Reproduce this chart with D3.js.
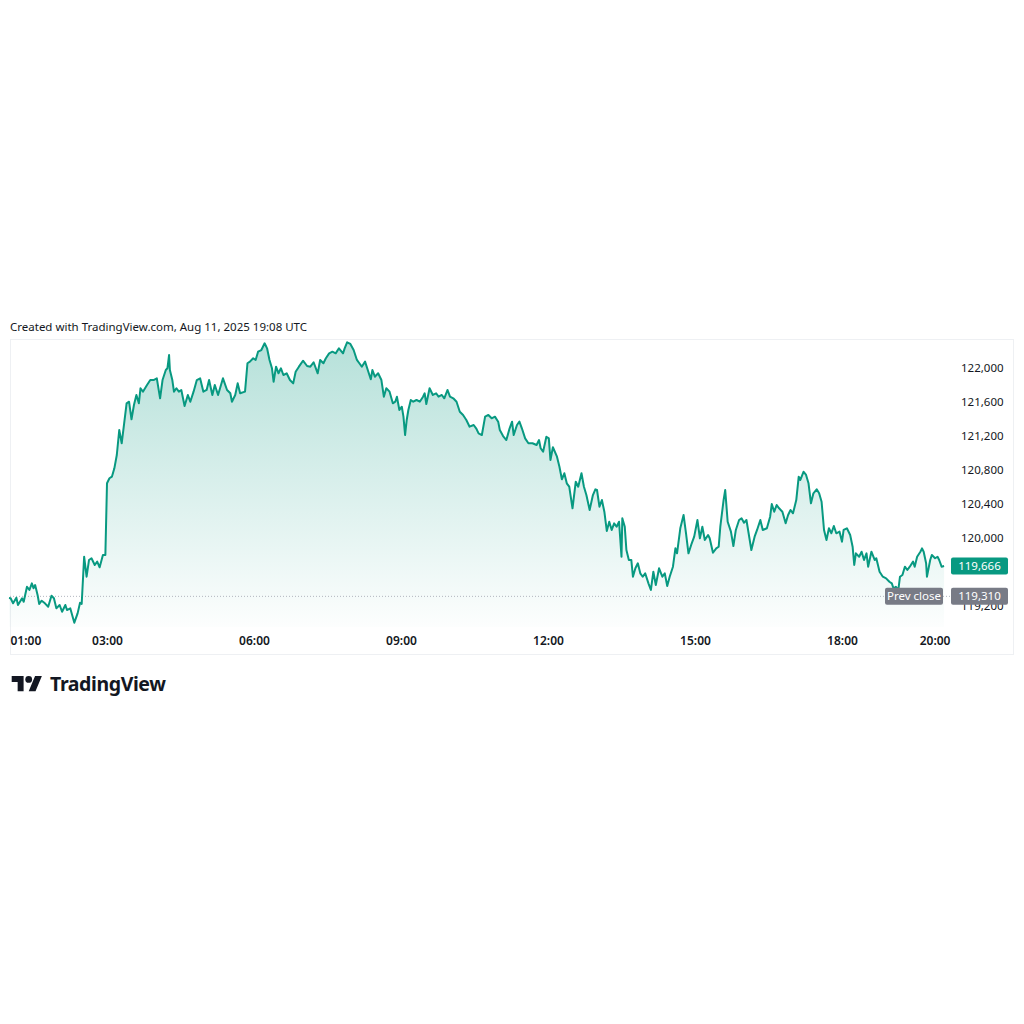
<!DOCTYPE html>
<html>
<head>
<meta charset="utf-8">
<script src="https://cdn.jsdelivr.net/npm/d3@7"></script>
<style>
  body { margin: 0; background: #fff; }
  svg text { font-family: "Noto Sans", sans-serif; }
</style>
</head>
<body>
<svg id="chart" width="1024" height="1024"></svg>
<script>
// minutes after 01:00 (chart time), Aug 11 2025
const minutes = [
  0, 2, 5, 9, 11, 16, 18, 22, 25, 28,
  30, 32, 35, 37, 40, 44, 48, 52, 55, 58,
  62, 65, 69, 71, 75, 80, 84, 87, 89, 92,
  95, 98, 101, 105, 108, 111, 115, 118, 120, 123,
  126, 129, 132, 135, 138, 141, 144, 147, 150, 153,
  156, 159, 161, 164, 169, 173, 177, 181, 185, 188,
  192, 194, 196, 197, 200, 202, 205, 208, 211, 215,
  219, 222, 226, 230, 234, 238, 242, 245, 249, 252,
  256, 262, 267, 271, 273, 277, 280, 283, 289, 292,
  295, 299, 302, 305, 309, 313, 316, 319, 322, 324,
  327, 330, 333, 336, 340, 344, 348, 351, 355, 360,
  365, 369, 373, 378, 381, 385, 388, 392, 396, 400,
  404, 409, 411, 414, 418, 422, 426, 429, 432, 436,
  440, 443, 445, 448, 452, 456, 459, 462, 466, 470,
  473, 475, 478, 481, 483, 485, 487, 489, 492, 495,
  499, 503, 507, 509, 511, 515, 519, 523, 526, 530,
  533, 537, 540, 544, 548, 552, 556, 560, 564, 569,
  572, 575, 579, 583, 587, 591, 595, 599, 601, 605,
  609, 613, 616, 618, 622, 625, 628, 632, 636, 641,
  646, 649, 651, 654, 658, 661, 663, 666, 671, 674,
  677, 680, 683, 686, 690, 694, 697, 701, 704, 707,
  711, 715, 718, 720, 723, 726, 729, 732, 735, 738,
  741, 744, 747, 750, 751, 754, 756, 759, 762, 764,
  767, 770, 773, 776, 779, 783, 786, 789, 792, 796,
  800, 803, 806, 809, 813, 816, 818, 822, 826, 829,
  832, 836, 839, 843, 846, 849, 852, 856, 858, 862,
  866, 869, 871, 875, 877, 880, 884, 887, 890, 894,
  897, 900, 903, 907, 909, 913, 916, 920, 923, 928,
  932, 934, 937, 940, 943, 947, 951, 954, 957, 960,
  964, 967, 969, 973, 976, 979, 982, 985, 989, 992,
  995, 998, 1001, 1004, 1007, 1010, 1013, 1017, 1020, 1022,
  1026, 1030, 1033, 1035, 1037, 1041, 1044, 1047, 1050, 1052,
  1056, 1060, 1062, 1066, 1070, 1074, 1078, 1081, 1083, 1086,
  1089, 1091, 1094, 1097, 1100, 1103, 1107, 1109, 1112, 1116,
  1118, 1120, 1123, 1124, 1128, 1130, 1134, 1137, 1139, 1142,
  1145
];

const prices = [
  119290, 119287, 119228, 119294, 119208, 119287, 119247, 119423, 119385, 119463,
  119405, 119443, 119326, 119220, 119259, 119228, 119188, 119318, 119287, 119169,
  119208, 119129, 119208, 119149, 119169, 119000, 119110, 119235, 119220, 119776,
  119541, 119738, 119758, 119679, 119718, 119652, 119796, 119796, 120640, 120699,
  120718, 120816, 120973, 121267, 121111, 121346, 121581, 121600, 121393, 121561,
  121679, 121581, 121758, 121718, 121796, 121855, 121855, 121875, 121640, 121855,
  121973, 121993, 122149, 121973, 121855, 121718, 121758, 121718, 121738, 121549,
  121679, 121600, 121718, 121855, 121875, 121718, 121738, 121855, 121679, 121796,
  121679, 121875, 121738, 121699, 121600, 121679, 121816, 121699, 121718, 122052,
  122071, 122111, 122091, 122188, 122208, 122287, 122228, 122091, 121993, 121835,
  122012, 121934, 121993, 121914, 121934, 121855, 121816, 121953, 122012, 122082,
  122020, 122012, 122064, 121934, 122091, 122052, 122111, 122169, 122188, 122169,
  122228, 122169, 122228, 122299, 122279, 122208, 122091, 122052, 122012, 122071,
  121953, 121864, 121973, 121894, 121934, 121855, 121659, 121758, 121718, 121581,
  121600, 121659, 121502, 121541, 121424, 121208, 121385, 121502, 121620, 121600,
  121620, 121600, 121659, 121699, 121573, 121758, 121679, 121699, 121659, 121679,
  121640, 121738, 121659, 121640, 121600, 121482, 121444, 121385, 121306, 121326,
  121287, 121228, 121208, 121424, 121444, 121405, 121424, 121365, 121267, 121196,
  121149, 121287, 121365, 121208, 121326, 121365, 121287, 121169, 121111, 121111,
  121091, 121149, 121052, 121012, 121188, 121169, 120914, 121064, 120953, 120835,
  120687, 120758, 120640, 120600, 120346, 120659, 120600, 120758, 120600, 120502,
  120326, 120502, 120569, 120561, 120365, 120443, 120306, 120079, 120188, 120091,
  120169, 120129, 120188, 119776, 120228, 120129, 119855, 119738, 119738, 119541,
  119640, 119699, 119581, 119541, 119581, 119463, 119385, 119600, 119443, 119640,
  119541, 119581, 119432, 119541, 119659, 119875, 119816, 120111, 120267, 120052,
  119816, 119934, 120012, 120208, 119993, 120129, 119973, 120032, 119993, 119823,
  119875, 119894, 120129, 120443, 120561, 120188, 120071, 119902, 120091, 120208,
  120228, 120176, 120208, 119973, 119855, 120012, 120091, 120208, 120091, 120111,
  120247, 120396, 120306, 120385, 120346, 120306, 120169, 120267, 120326, 120287,
  120443, 120718, 120679, 120776, 120738, 120640, 120405, 120522, 120569, 120522,
  120423, 120091, 119973, 120111, 120052, 120138, 120052, 120071, 119953, 120091,
  120111, 120032, 119894, 119679, 119816, 119776, 119835, 119738, 119816, 119659,
  119835, 119738, 119758, 119600, 119541, 119522, 119482, 119463, 119405, 119423,
  119385, 119541, 119561, 119659, 119620, 119659, 119718, 119659, 119776, 119835,
  119875, 119835, 119699, 119541, 119738, 119796, 119758, 119776, 119738, 119659,
  119666
];

const prevClose = 119310;
const yTicks = [119200, 120000, 120400, 120800, 121200, 121600, 122000];
const xTickHours = [1, 3, 6, 9, 12, 15, 18, 20];
const title = "Created with TradingView.com, Aug 11, 2025 19:08 UTC";

const green = "#089981";
const textColor = "#131722";

const svg = d3.select("#chart");

const base = Date.UTC(2025, 7, 11, 1, 0);
const data = minutes.map((m, i) => ({ t: new Date(base + m * 60000), price: prices[i] }));

// pane geometry
const paneLeft = 10, paneRight = 950, paneTop = 339, paneBottom = 627;

const xScale = d3.scaleUtc()
  .domain([new Date(Date.UTC(2025, 7, 11, 1)), new Date(Date.UTC(2025, 7, 11, 20))])
  .range([9, 940]);

const yScale = d3.scaleLinear()
  .domain([119200, 122000])
  .range([605.7, 367.7]);

// header
svg.append("text")
  .attr("x", 10)
  .attr("y", 331)
  .attr("font-size", 11.5)
  .attr("fill", textColor)
  .text(title);

// frame
svg.append("rect")
  .attr("x", 10.5)
  .attr("y", 339.5)
  .attr("width", 1003)
  .attr("height", 315)
  .attr("fill", "none")
  .attr("stroke", "#eef0f3");

// area gradient
const grad = svg.append("defs").append("linearGradient")
  .attr("id", "areaFill")
  .attr("gradientUnits", "userSpaceOnUse")
  .attr("x1", 0).attr("y1", paneTop)
  .attr("x2", 0).attr("y2", paneBottom);
grad.append("stop").attr("offset", 0).attr("stop-color", green).attr("stop-opacity", 0.3);
grad.append("stop").attr("offset", 1).attr("stop-color", green).attr("stop-opacity", 0.01);

const area = d3.area()
  .x(d => xScale(d.t))
  .y0(paneBottom)
  .y1(d => yScale(d.price));

svg.append("path")
  .datum(data)
  .attr("d", area)
  .attr("fill", "url(#areaFill)");

// prev close line
svg.append("line")
  .attr("x1", paneLeft)
  .attr("x2", paneRight)
  .attr("y1", yScale(prevClose))
  .attr("y2", yScale(prevClose))
  .attr("stroke", "#b2b5be")
  .attr("stroke-width", 1)
  .attr("stroke-dasharray", "1,2");

const line = d3.line()
  .x(d => xScale(d.t))
  .y(d => yScale(d.price));

svg.append("path")
  .datum(data)
  .attr("d", line)
  .attr("fill", "none")
  .attr("stroke", green)
  .attr("stroke-width", 2)
  .attr("stroke-linejoin", "round");

// Axes
const yAxis = d3.axisRight(yScale)
  .tickValues(yTicks)
  .tickFormat(d3.format(","))
  .tickSize(0)
  .tickPadding(0);

const yG = svg.append("g")
  .attr("transform", "translate(961, 0)")
  .call(yAxis);
yG.select(".domain").remove();
yG.selectAll("text")
  .attr("font-size", 11.5)
  .attr("fill", textColor)
  .attr("font-family", '"Noto Sans", sans-serif');

const xAxis = d3.axisBottom(xScale)
  .tickValues(xTickHours.map(h => new Date(Date.UTC(2025, 7, 11, h))))
  .tickFormat(d3.utcFormat("%H:%M"))
  .tickSize(0)
  .tickPadding(0);

const xG = svg.append("g")
  .attr("transform", "translate(0, 636.5)")
  .call(xAxis);
xG.select(".domain").remove();
xG.selectAll("text")
  .attr("font-size", 12)
  .attr("font-weight", 600)
  .attr("fill", textColor)
  .attr("font-family", '"Noto Sans", sans-serif');
// keep edge labels inside the pane
xG.selectAll(".tick text").each(function (d) {
  const w = this.getComputedTextLength();
  const cx = xScale(d);
  if (cx - w / 2 < paneLeft) d3.select(this).attr("x", paneLeft + w / 2 - cx);
  if (cx + w / 2 > paneRight) d3.select(this).attr("x", paneRight - w / 2 - cx);
});

// last price label
const last = data[data.length - 1];
function priceTag(x, w, y, fill, label) {
  svg.append("rect")
    .attr("x", x).attr("y", y - 8.5)
    .attr("width", w).attr("height", 17)
    .attr("rx", 2)
    .attr("fill", fill);
  svg.append("text")
    .attr("x", x + w / 2)
    .attr("y", y)
    .attr("dy", "0.35em")
    .attr("text-anchor", "middle")
    .attr("font-size", 11.5)
    .attr("fill", "#fff")
    .text(label);
}
priceTag(951, 57, yScale(last.price), green, d3.format(",")(last.price));
priceTag(885, 58, yScale(prevClose), "#787b86", "Prev close");
priceTag(951, 57, yScale(prevClose), "#787b86", d3.format(",")(prevClose));

// logo
const logo = svg.append("g").attr("transform", "translate(11.7, 672.6) scale(0.85)");
logo.append("path")
  .attr("d", "M14 22H7V11H0V4h14v18zM28 22h-8l7.5-18h8L28 22z")
  .attr("fill", textColor);
logo.append("circle").attr("cx", 20).attr("cy", 8).attr("r", 4).attr("fill", textColor);

svg.append("text")
  .attr("x", 50)
  .attr("y", 691)
  .attr("font-size", 19.5)
  .attr("font-weight", 700)
  .attr("fill", textColor)
  .attr("font-family", "Inter, sans-serif")
  .attr("letter-spacing", -0.4)
  .text("TradingView");
</script>
</body>
</html>
